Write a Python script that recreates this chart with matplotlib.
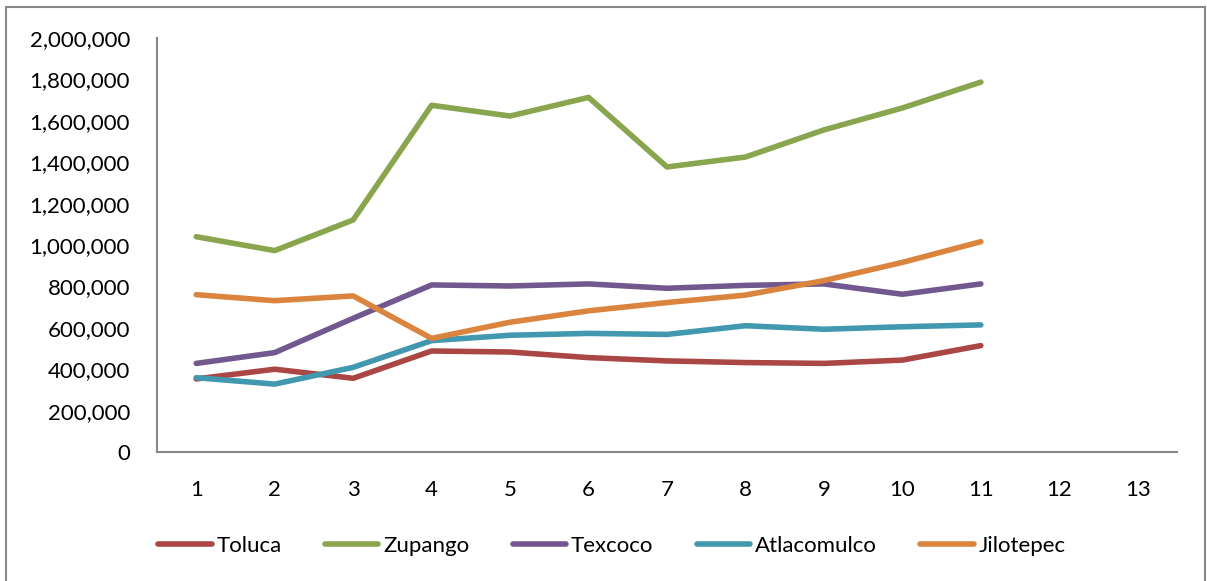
import numpy as np
import matplotlib.pyplot as plt
from matplotlib.patches import Rectangle
from matplotlib.ticker import FuncFormatter

plt.rcParams['font.family'] = ['Lato', 'DejaVu Sans']

periodos = list(range(1, 12))
categorias = [str(i) for i in range(1, 14)]

toluca = [353000, 400000, 356000, 488000, 483000, 456000, 440000, 432000, 428000, 444000, 514000]
zupango = [1040000, 973000, 1121000, 1675000, 1623000, 1713000, 1377000, 1425000, 1556000, 1662000, 1787000]
texcoco = [428000, 480000, 646000, 807000, 802000, 812000, 791000, 805000, 812000, 762000, 812000]
atlacomulco = [359000, 328000, 409000, 538000, 564000, 573000, 568000, 610000, 593000, 605000, 614000]
jilotepec = [760000, 731000, 754000, 549000, 627000, 682000, 722000, 758000, 828000, 916000, 1016000]

series = [
    ('Toluca', toluca, '#AA4643'),
    ('Zupango', zupango, '#89A54E'),
    ('Texcoco', texcoco, '#71588F'),
    ('Atlacomulco', atlacomulco, '#4198AF'),
    ('Jilotepec', jilotepec, '#DB843D'),
]

fig = plt.figure(figsize=(12.07, 5.81), dpi=100)
ax = fig.add_axes([157/1207, 1-452/581, (1177-157)/1207, (452-38)/581])

# marco exterior del grafico
fig.patches.append(Rectangle((6/1207, -0.05), (1205-6)/1207, 1.05 - 7/581,
                             transform=fig.transFigure, fill=False,
                             edgecolor='#888888', linewidth=1.5))

for nombre, valores, color in series:
    ax.plot(periodos, valores, color=color, linewidth=4, label=nombre,
            solid_capstyle='round', solid_joinstyle='round')

ax.set_xlim(0.5, 13.5)
ax.set_ylim(0, 2000000)
ax.set_xticks(range(1, 14))
ax.set_xticklabels(categorias)
ax.set_yticks(np.arange(0, 2000001, 200000))
ax.yaxis.set_major_formatter(FuncFormatter(lambda v, p: format(int(v), ',')))

for s in ['top', 'right']:
    ax.spines[s].set_visible(False)
for s in ['left', 'bottom']:
    ax.spines[s].set_color('#888888')
    ax.spines[s].set_linewidth(1.5)
ax.tick_params(axis='both', length=0, labelsize=16, colors='black')
ax.tick_params(axis='x', pad=20)
ax.tick_params(axis='y', pad=19.5)

ax.legend(loc='upper center', bbox_to_anchor=(0.446, -0.155), ncol=5,
          frameon=False, fontsize=16, handlelength=2.4, handletextpad=0.22,
          columnspacing=1.95)

fig.savefig('out.png', dpi=100)
